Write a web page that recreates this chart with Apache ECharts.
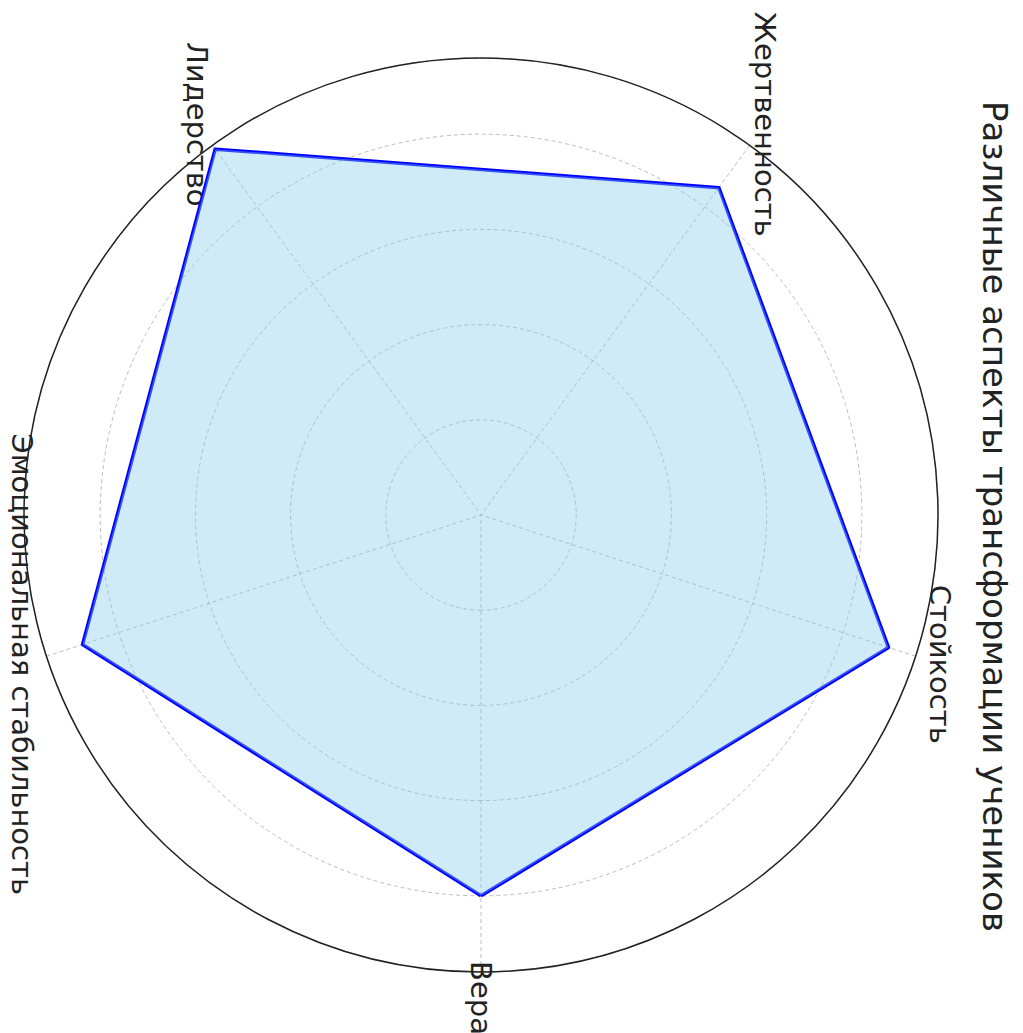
<!DOCTYPE html>
<html>
<head>
<meta charset="utf-8">
<script src="https://cdn.jsdelivr.net/npm/echarts@6/dist/echarts.min.js"></script>
<style>
  html, body { margin: 0; padding: 0; background: #fff; overflow: hidden; }
  /* chart is drawn upright, then the whole box is turned 90deg clockwise */
  #radarBox {
    position: absolute;
    left: -5px;
    top: 5px;
    width: 1033px;
    height: 1023px;
    transform: rotate(90deg);
    transform-origin: 50% 50%;
  }
</style>
</head>
<body>
<div id="radarBox"></div>
<script>
var titleText = "Различные аспекты трансформации учеников";
var categories = ["Вера", "Стойкость", "Жертвенность", "Лидерство", "Эмоциональная стабильность"];
var scores = [80, 90, 85, 95, 88];
var rMax = 96;
var ringStep = 20;

var center = [515, 542];
var radius = 457;

var chart = echarts.init(document.getElementById("radarBox"), null, { renderer: "svg" });
chart.setOption({
  animation: false,
  backgroundColor: "#ffffff",
  textStyle: { fontFamily: "DejaVu Sans" },
  title: {
    text: titleText,
    left: "center",
    top: 6,
    textStyle: { fontFamily: "DejaVu Sans", fontSize: 34, fontWeight: "normal", color: "#222" }
  },
  // dashed rings and spokes, solid outer circle
  polar: { center: center, radius: radius },
  angleAxis: {
    type: "value",
    min: 0,
    max: 360,
    interval: 360 / categories.length,
    startAngle: 0,
    axisLine: { show: true, lineStyle: { color: "#222", width: 1.5 } },
    axisTick: { show: false },
    axisLabel: { show: false },
    splitLine: { show: true, lineStyle: { color: "#bdbdbd", width: 1, type: [4, 3] } }
  },
  radiusAxis: {
    type: "value",
    min: 0,
    max: rMax,
    interval: ringStep,
    axisLine: { show: false },
    axisTick: { show: false },
    axisLabel: { show: false },
    splitLine: { show: true, lineStyle: { color: "#bdbdbd", width: 1, type: [4, 3] } }
  },
  radar: {
    center: center,
    radius: radius,
    startAngle: 0,
    shape: "circle",
    nameGap: 26,
    indicator: categories.map(function (c) { return { name: c, min: 0, max: rMax }; }),
    axisName: {
      color: "#222",
      fontFamily: "DejaVu Sans",
      fontSize: 29,
      align: "center",
      verticalAlign: "middle"
    },
    axisLine: { show: false },
    axisTick: { show: false },
    splitLine: { show: false },
    splitArea: { show: false }
  },
  series: [
    {
      type: "radar",
      symbol: "none",
      lineStyle: { color: "#0000ff", width: 3.5 },
      areaStyle: { color: "#87ceeb", opacity: 0.4 },
      data: [{ value: scores, name: titleText }]
    }
  ]
});
</script>
</body>
</html>
